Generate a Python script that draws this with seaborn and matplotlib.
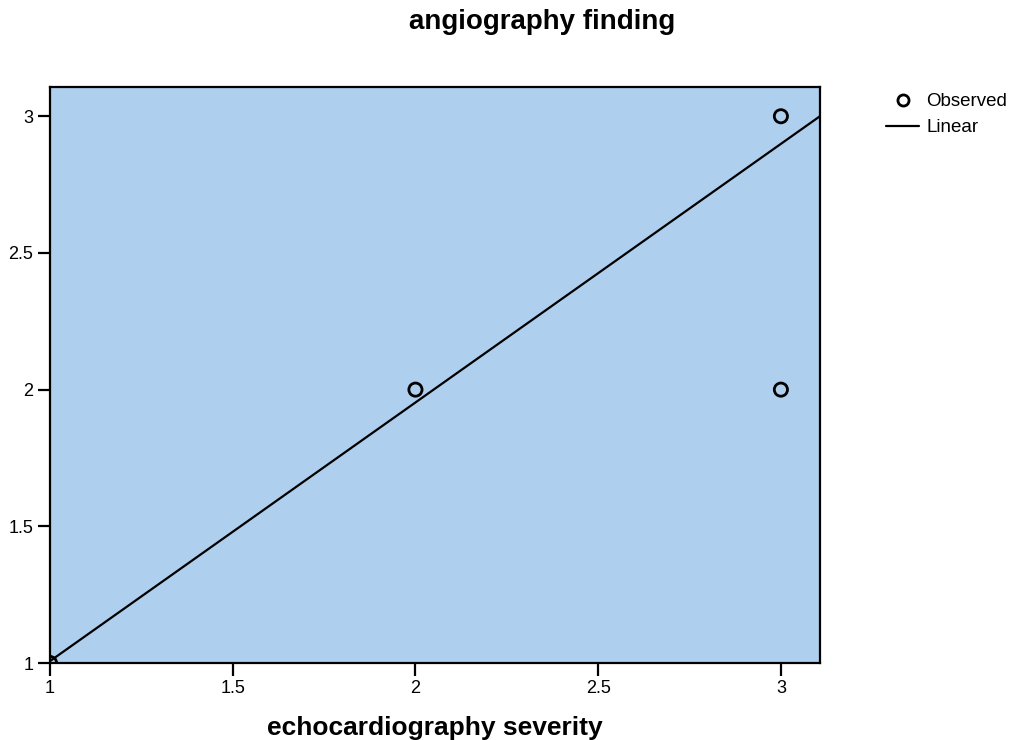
import numpy as np
import pandas as pd
import matplotlib
matplotlib.use("Agg")
import matplotlib.pyplot as plt
from matplotlib.lines import Line2D
import seaborn as sns

# observed points (echo severity, angiography finding)
echo_severity = [1, 2, 3, 3]
angio_finding = [1, 2, 3, 2]

# linear fit
fit_intercept = 0.061
fit_slope = 0.946

x_min, x_max = 1.0, 3.107
y_min, y_max = 1.0, 3.107
x_ticks = [1, 1.5, 2, 2.5, 3]
y_ticks = [1, 1.5, 2, 2.5, 3]
tick_labels = ["1", "1.5", "2", "2.5", "3"]

sns.set_style("white")
plt.rcParams['font.family'] = ['Liberation Sans', 'DejaVu Sans']
plt.rcParams['text.color'] = 'black'
plt.rcParams['xtick.color'] = 'black'
plt.rcParams['ytick.color'] = 'black'
plt.rcParams['axes.labelcolor'] = 'black'

fig = plt.figure(figsize=(10.13, 7.4), dpi=100)
ax = fig.add_axes([50/1013, 77/740, 770/1013, 576/740])
ax.set_facecolor('#aecfee')

obs = pd.DataFrame({'x': echo_severity, 'y': angio_finding})
sns.scatterplot(data=obs, x='x', y='y', ax=ax, marker='o', s=90,
                facecolor='none', edgecolor='black', linewidth=2, zorder=3)

line_x = np.array([x_min, x_max])
line = pd.DataFrame({'x': line_x, 'y': fit_intercept + fit_slope * line_x})
sns.lineplot(data=line, x='x', y='y', ax=ax, color='black', linewidth=1.6, zorder=2)

ax.set_xlim(x_min, x_max)
ax.set_ylim(y_min, y_max)
ax.set_xticks(x_ticks)
ax.set_xticklabels(tick_labels)
ax.set_yticks(y_ticks)
ax.set_yticklabels(tick_labels)
ax.tick_params(axis='both', direction='out', length=9, width=1.6,
               labelsize=13, color='black', labelcolor='black', pad=3,
               left=True, bottom=True)
for sp in ax.spines.values():
    sp.set_linewidth(1.6)
    sp.set_color('black')

ax.set_xlabel('echocardiography severity', fontsize=19, fontweight='bold',
              labelpad=14, color='black')
ax.set_ylabel('')
fig.text(542/1013, 1 - 22/740, 'angiography finding', ha='center', va='center',
         fontsize=20, fontweight='bold', color='black')

handles = [Line2D([], [], marker='o', linestyle='none', markerfacecolor='none',
                  markeredgecolor='black', markeredgewidth=2, markersize=8),
           Line2D([], [], color='black', linewidth=1.6)]
leg = fig.legend(handles, ['Observed', 'Linear'], loc='upper left',
                 bbox_to_anchor=(877/1013, 1 - 84/740), frameon=False, fontsize=13.5,
                 handlelength=1.76, handletextpad=0.37, labelspacing=0.45, borderpad=0)
for t in leg.get_texts():
    t.set_color('black')

fig.savefig('out.png', dpi=100)
